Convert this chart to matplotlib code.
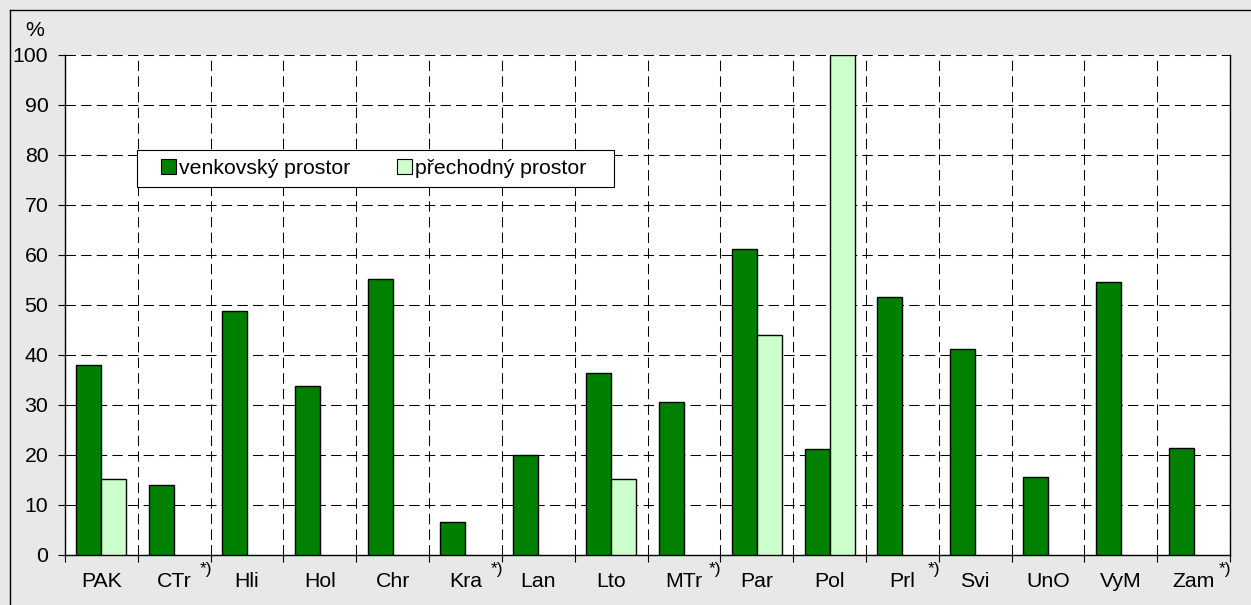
import matplotlib
matplotlib.use("Agg")
import matplotlib.pyplot as plt
from matplotlib.lines import Line2D
from matplotlib.patches import Rectangle, Patch
from matplotlib.transforms import blended_transform_factory, offset_copy
import numpy as np

categories = ["PAK", "CTr", "Hli", "Hol", "Chr", "Kra", "Lan", "Lto",
              "MTr", "Par", "Pol", "Prl", "Svi", "UnO", "VyM", "Zam"]
starred = [False, True, False, False, False, True, False, False,
           True, False, False, True, False, False, False, True]
venkovsky = [38.0, 14.1, 48.9, 33.8, 55.2, 6.7, 20.1, 36.5,
             30.6, 61.3, 21.3, 51.7, 41.3, 15.6, 54.7, 21.5]
prechodny = [15.2, np.nan, np.nan, np.nan, np.nan, np.nan, np.nan, 15.3,
             np.nan, 44.1, 100.0, np.nan, np.nan, np.nan, np.nan, np.nan]
series_names = ["venkovský prostor", "přechodný prostor"]
yticks = [0, 10, 20, 30, 40, 50, 60, 70, 80, 90, 100]

plt.rcParams['font.family'] = ['Liberation Sans', 'DejaVu Sans']
FS = 15.3
W, H = 1251, 605
fig = plt.figure(figsize=(W / 100, H / 100), dpi=100, facecolor="#e8e8e8")
ax = fig.add_axes([65 / W, (H - 555) / H, (1230 - 65) / W, 500 / H])
ax.set_facecolor("white")

x = np.arange(len(categories))
bw = 0.343
ax.bar(x - bw / 2, venkovsky, bw, color="#008000", edgecolor="black", linewidth=1.0, zorder=3)
ax.bar(x + bw / 2, prechodny, bw, color="#ccffcc", edgecolor="black", linewidth=1.0, zorder=3)

ax.set_xlim(-0.5, len(categories) - 0.5)
ax.set_ylim(0, 100)
ax.set_yticks(yticks)
ax.set_yticklabels([str(v) for v in yticks], fontsize=FS)
ax.set_xticks(x)
ax.set_xticklabels(categories, fontsize=FS)
ax.set_xticks(np.arange(-0.5, len(categories)), minor=True)
ax.tick_params(axis="x", which="major", length=0, pad=12)
ax.tick_params(axis="x", which="minor", length=5, width=0.8, direction="out")
ax.tick_params(axis="y", length=5, width=0.8, direction="out", pad=7)

dash = (0, (10, 5))
ax.grid(axis="y", which="major", color="black", linestyle=dash, linewidth=0.75, zorder=1)
ax.grid(axis="x", which="minor", color="black", linestyle=dash, linewidth=0.75, zorder=1)
ax.grid(axis="x", which="major", visible=False)
ax.set_axisbelow(True)

for s in ["left", "bottom", "right"]:
    ax.spines[s].set_linewidth(1.0)
    ax.spines[s].set_color("black")
ax.spines["top"].set_visible(False)

# superscript marks
tr = blended_transform_factory(ax.transData, ax.transAxes)
for xi, st in zip(x, starred):
    if st:
        t = offset_copy(tr, fig=fig, x=25 * 0.72, y=-7 * 0.72, units="points")
        ax.text(xi, 0, "*)", transform=t, fontsize=12.5, ha="left", va="top", clip_on=False)

# legend
handles = [Patch(facecolor="#008000", edgecolor="black", linewidth=0.8),
           Patch(facecolor="#ccffcc", edgecolor="black", linewidth=0.8)]
leg = ax.legend(handles, series_names, loc="center left",
                bbox_to_anchor=((160.7 - 65) / 1165, (555 - 168.7) / 500),
                ncol=2, frameon=False, fontsize=FS, borderpad=0, borderaxespad=0,
                handlelength=0.7, handleheight=0.7, handletextpad=0.15,
                columnspacing=2.2)
leg.set_zorder(6)
ax.add_patch(Rectangle(((136.7 - 65) / 1165, (555 - 187.3) / 500),
                       (614 - 136.7) / 1165, 37.3 / 500, transform=ax.transAxes,
                       facecolor="white", edgecolor="black", linewidth=0.8, zorder=5))

fig.text(25 / W, 1 - 36 / H, "%", fontsize=FS, ha="left", va="baseline")

# outer frame (top and left visible)
fig.add_artist(Line2D([10 / W, 1.0], [1 - 10 / H, 1 - 10 / H], color="black", linewidth=1.0,
                      transform=fig.transFigure))
fig.add_artist(Line2D([10 / W, 10 / W], [0, 1 - 10 / H], color="black", linewidth=1.0,
                      transform=fig.transFigure))

fig.savefig("out.png", dpi=100, facecolor=fig.get_facecolor())
